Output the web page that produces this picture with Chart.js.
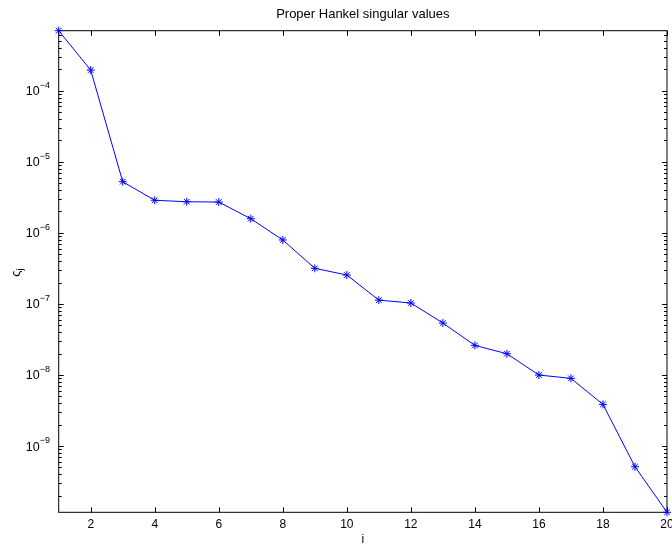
<!DOCTYPE html>
<html>
<head>
<meta charset="utf-8">
<script src="https://cdn.jsdelivr.net/npm/chart.js@4/dist/chart.umd.min.js"></script>
<style>
  body { margin: 0; background: #fff; }
  #wrap { width: 672px; height: 545px; }
</style>
</head>
<body>
<div id="wrap"><canvas id="chart"></canvas></div>
<script>
// singular values
const index = [1, 2, 3, 4, 5, 6, 7, 8, 9, 10, 11, 12, 13, 14, 15, 16, 17, 18, 19, 20];
const sigma = [
  6.98e-4, 1.95e-4, 5.24e-6, 2.87e-6, 2.74e-6, 2.71e-6, 1.58e-6, 7.93e-7,
  3.17e-7, 2.55e-7, 1.13e-7, 1.03e-7, 5.38e-8, 2.61e-8, 1.99e-8, 9.98e-9,
  8.97e-9, 3.86e-9, 5.12e-10, 1.17e-10,
];
const xTicks = [2, 4, 6, 8, 10, 12, 14, 16, 18, 20];
const yExponents = [-4, -5, -6, -7, -8, -9];

const FONT = '"Liberation Sans", Arial, Helvetica, sans-serif';

const axesPlugin = {
  id: "matlabAxes",
  beforeDatasetsDraw(chart) {
    const { ctx, chartArea: a } = chart;
    ctx.save();
    ctx.strokeStyle = "#000";
    ctx.lineWidth = 1;
    ctx.strokeRect(a.left, a.top, a.right - a.left, a.bottom - a.top);

    const xs = chart.scales.x;
    const ys = chart.scales.y;
    ctx.beginPath();
    xTicks.forEach((v) => {
      const px = Math.round(xs.getPixelForValue(v)) + 0.5;
      ctx.moveTo(px, a.bottom);
      ctx.lineTo(px, a.bottom - 5);
      ctx.moveTo(px, a.top);
      ctx.lineTo(px, a.top + 5);
    });
    // decades plus minor ticks
    for (let e = -11; e <= -3; e++) {
      for (let k = 1; k <= 9; k++) {
        const v = k * Math.pow(10, e);
        if (v < ys.min || v > ys.max) continue;
        const len = k === 1 ? 5 : 3;
        const py = Math.round(ys.getPixelForValue(v)) + 0.5;
        ctx.moveTo(a.left, py);
        ctx.lineTo(a.left + len, py);
        ctx.moveTo(a.right, py);
        ctx.lineTo(a.right - len, py);
      }
    }
    ctx.stroke();
    ctx.restore();
  },
  afterDraw(chart) {
    const { ctx, chartArea: a } = chart;
    const xs = chart.scales.x;
    const ys = chart.scales.y;
    ctx.save();
    ctx.fillStyle = "#000";

    ctx.font = "12px " + FONT;
    ctx.textAlign = "center";
    ctx.textBaseline = "middle";
    xTicks.forEach((v) => {
      ctx.fillText(String(v), xs.getPixelForValue(v), a.bottom + 12.5);
    });

    yExponents.forEach((e) => {
      const py = ys.getPixelForValue(Math.pow(10, e));
      ctx.font = "12.5px " + FONT;
      ctx.textAlign = "right";
      ctx.textBaseline = "alphabetic";
      ctx.fillText("10", a.left - 19, py + 4.5);
      ctx.font = "9px " + FONT;
      ctx.textAlign = "left";
      ctx.fillText("\u2212" + Math.abs(e), a.left - 19, py - 3);
    });

    ctx.font = "13px " + FONT;
    ctx.textAlign = "center";
    ctx.textBaseline = "middle";
    ctx.fillText("Proper Hankel singular values", (a.left + a.right) / 2, 14);

    ctx.font = "12px " + FONT;
    ctx.fillText("i", (a.left + a.right) / 2, 540);

    ctx.translate(16, (a.top + a.bottom) / 2);
    ctx.rotate(-Math.PI / 2);
    ctx.font = "13px " + FONT;
    ctx.textAlign = "right";
    ctx.textBaseline = "alphabetic";
    ctx.fillText("\u03c2", 1, 4);
    ctx.font = "9px " + FONT;
    ctx.textAlign = "left";
    ctx.fillText("j", 1, 7);
    ctx.restore();
  },
};

new Chart(document.getElementById("chart"), {
  type: "line",
  data: {
    labels: index,
    datasets: [
      {
        data: index.map((x, i) => ({ x: x, y: sigma[i] })),
        borderColor: "#0000ff",
        backgroundColor: "#0000ff",
        borderWidth: 1,
        pointStyle: "star",
        pointRadius: 4,
        pointBorderWidth: 1,
        pointBorderColor: "#0000ff",
        tension: 0,
        clip: false,
      },
    ],
  },
  options: {
    responsive: true,
    maintainAspectRatio: false,
    animation: false,
    layout: { padding: { left: 58.7, top: 30.7, right: 2, bottom: 32.7 } },
    plugins: { legend: { display: false }, tooltip: { enabled: false } },
    scales: {
      x: { type: "linear", min: 1, max: 20, display: false },
      y: { type: "logarithmic", min: 1.17e-10, max: 6.98e-4, display: false },
    },
  },
  plugins: [axesPlugin],
});
</script>
</body>
</html>
